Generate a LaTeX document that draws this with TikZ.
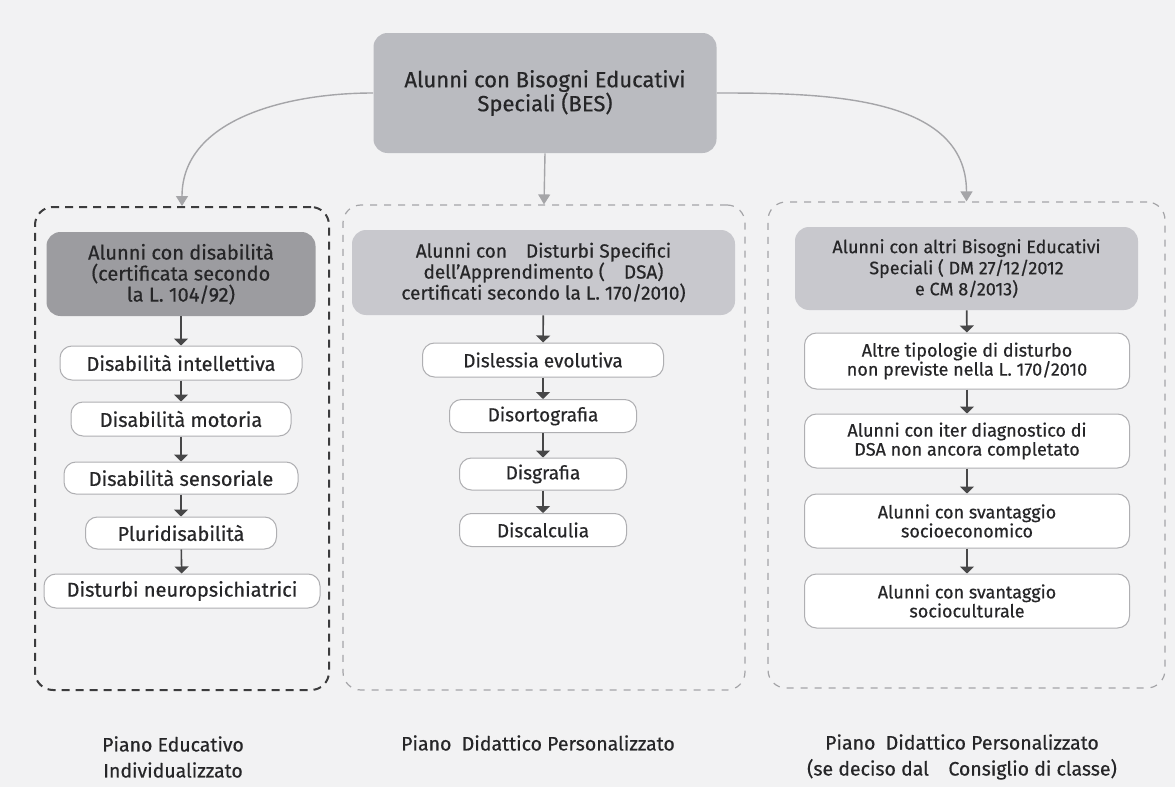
\documentclass[tikz,border=0pt]{standalone}
\usepackage{fontspec}
\setmainfont{Fira Sans}[RawFeature={embolden=0.5}]
\usetikzlibrary{arrows.meta}
\definecolor{paper}{RGB}{242,242,243}
\definecolor{ink}{RGB}{38,38,40}
\definecolor{topgray}{RGB}{186,187,192}
\definecolor{darkgray}{RGB}{156,156,160}
\definecolor{midgray}{RGB}{200,200,205}
\definecolor{linegray}{RGB}{175,175,178}
\definecolor{arrowgray}{RGB}{165,165,168}

\begin{document}
\begin{tikzpicture}[x=0.5pt,y=-0.5pt,
    font=\fontsize{9.5}{10.5}\selectfont, text=ink,
    hdr/.style={rounded corners=7pt, align=center, inner sep=2pt},
    item/.style={draw=linegray, line width=0.5pt, fill=white, rounded corners=6pt, align=center, inner sep=2pt},
    lcol/.style={font=\fontsize{10}{10.5}\selectfont},
    mcol/.style={font=\fontsize{9.5}{10.5}\selectfont},
    rcol/.style={font=\fontsize{9}{9.5}\selectfont},
    frame/.style={rounded corners=9pt, dashed},
    bigarrow/.style={-{Triangle[width=6pt,length=5pt]}, arrowgray, line width=0.7pt},
    smallarrow/.style={-{Triangle[width=7pt,length=3.5pt]}, ink!85, line width=0.8pt}]

    % paper
    \fill[paper] (0,0) rectangle (1175,787);

    % root
    \node[hdr, fill=topgray, minimum width=171.5pt, minimum height=60pt,
          font=\fontsize{11}{12}\selectfont] (b0) at (545,93)
        {Alunni con Bisogni Educativi\\Speciali (BES)};

    % dashed frames
    \node[frame, draw=ink!90, line width=1pt, dash pattern=on 4pt off 3pt,
          minimum width=147pt, minimum height=241.5pt] (lf) at (182,448.5) {};
    \node[frame, draw=arrowgray, line width=0.6pt, dash pattern=on 3.5pt off 3.5pt,
          minimum width=201pt, minimum height=242.5pt] (mf) at (544,447.5) {};
    \node[frame, draw=arrowgray, line width=0.6pt, dash pattern=on 3.5pt off 3.5pt,
          minimum width=198.5pt, minimum height=243pt] (rf) at (966.5,445) {};

    \path[bigarrow]
    (b0.west) edge[out=180, in=90] (lf.north)
    (b0.south) edge (mf.north)
    (b0.east) edge[out=0, in=90] (rf.north);

    % left column
    \node[hdr, lcol, fill=darkgray, minimum width=134.5pt, minimum height=42pt] (l0) at (181,274)
        {Alunni con disabilità\\(certificata secondo\\la L. 104/92)};
    \node[item, lcol, minimum width=121pt, minimum height=17pt] (l1) at (181,363) {Disabilità intellettiva};
    \node[item, lcol, minimum width=110pt, minimum height=17pt] (l2) at (181,419) {Disabilità motoria};
    \node[item, lcol, minimum width=117pt, minimum height=16pt] (l3) at (181,478) {Disabilità sensoriale};
    \node[item, lcol, minimum width=95.5pt, minimum height=16pt] (l4) at (181,533) {Pluridisabilità};
    \node[item, lcol, minimum width=138pt, minimum height=17pt] (l5) at (182,591) {Disturbi neuropsichiatrici};

    \path[smallarrow]
    (l0) edge (l1)
    (l1) edge (l2)
    (l2) edge (l3)
    (l3) edge (l4)
    (l4) edge (l5);

    % middle column
    \node[hdr, mcol, fill=midgray, minimum width=191.5pt, minimum height=42.5pt] (m0) at (543.5,272.5)
        {Alunni con\quad Disturbi Specifici\\dell’Apprendimento (\quad DSA)\\certificati secondo la L. 170/2010)};
    \node[item, mcol, minimum width=120.5pt, minimum height=17pt] (m1) at (543,360) {Dislessia evolutiva};
    \node[item, mcol, minimum width=93.5pt, minimum height=16.5pt] (m2) at (543,416) {Disortografia};
    \node[item, mcol, minimum width=83.5pt, minimum height=16pt] (m3) at (543,474) {Disgrafia};
    \node[item, mcol, minimum width=83.5pt, minimum height=16.5pt] (m4) at (543,530) {Discalculia};

    \path[smallarrow]
    (m0) edge (m1)
    (m1) edge (m2)
    (m2) edge (m3)
    (m3) edge (m4);

    % right column
    \node[hdr, rcol, fill=midgray, minimum width=171.5pt, minimum height=41.5pt] (r0) at (966.5,268.5)
        {Alunni con altri Bisogni Educativi\\Speciali ( DM 27/12/2012\\e CM 8/2013)};
    \node[item, rcol, minimum width=162.5pt, minimum height=28pt] (r1) at (967,361)
        {Altre tipologie di disturbo\\non previste nella L. 170/2010};
    \node[item, rcol, minimum width=162.5pt, minimum height=27pt] (r2) at (967,441)
        {Alunni con iter diagnostico di\\DSA non ancora completato};
    \node[item, rcol, minimum width=162.5pt, minimum height=27pt] (r3) at (967,521)
        {Alunni con svantaggio\\socioeconomico};
    \node[item, rcol, minimum width=162.5pt, minimum height=27pt] (r4) at (967,601)
        {Alunni con svantaggio\\socioculturale};

    \path[smallarrow]
    (r0) edge (r1)
    (r1) edge (r2)
    (r2) edge (r3)
    (r3) edge (r4);

    % plan labels
    \node[align=center, font=\fontsize{9.75}{13}\selectfont] (lp) at (173,757)
        {Piano Educativo\\Individualizzato};
    \node[font=\fontsize{9.75}{13}\selectfont] (mp) at (538,743) {Piano\ \ Didattico Personalizzato};
    \node[align=center, font=\fontsize{9.75}{13}\selectfont] (rp) at (962,757)
        {Piano\ \ Didattico Personalizzato\\(se deciso dal\quad Consiglio di classe)};
\end{tikzpicture}
\end{document}
